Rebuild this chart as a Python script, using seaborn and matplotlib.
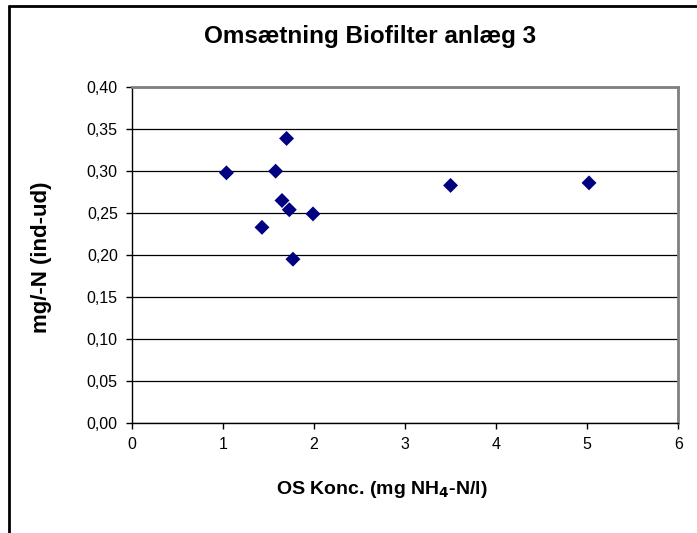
import numpy as np
import pandas as pd
import matplotlib
matplotlib.use("Agg")
import matplotlib.pyplot as plt
from matplotlib.lines import Line2D
from matplotlib.ticker import FuncFormatter, MultipleLocator
import seaborn as sns

# ── Data ─────────────────────────────────────────────────────────────────────
os_konc = [1.04, 1.58, 1.70, 1.65, 1.73, 1.99, 1.43, 1.77, 3.50, 5.02]
omsaetning = [0.298, 0.300, 0.339, 0.265, 0.254, 0.249, 0.233, 0.195, 0.283, 0.286]

df = pd.DataFrame({"konc": os_konc, "oms": omsaetning})

sns.set_style("white")
plt.rcParams["font.family"] = ["Liberation Sans", "DejaVu Sans"]
plt.rcParams["text.color"] = "black"
plt.rcParams["xtick.color"] = "black"
plt.rcParams["ytick.color"] = "black"

W, H = 697, 533
fig = plt.figure(figsize=(W / 100, H / 100), dpi=100)
ax = fig.add_axes([131.7 / W, 1 - 422.7 / H, (678.3 - 131.7) / W, (422.7 - 87.3) / H])

sns.scatterplot(data=df, x="konc", y="oms", ax=ax, marker="D", s=58,
                color="#000080", edgecolor="none", zorder=3)

ax.set_xlim(0, 6)
ax.set_ylim(0, 0.40)
ax.xaxis.set_major_locator(MultipleLocator(1))
ax.yaxis.set_major_locator(MultipleLocator(0.05))
ax.yaxis.set_major_formatter(FuncFormatter(lambda v, _: f"{v:.2f}".replace(".", ",")))
ax.grid(axis="y", color="black", lw=0.9)
ax.grid(axis="x", visible=False)

for side in ["left", "bottom"]:
    ax.spines[side].set_color("black")
    ax.spines[side].set_linewidth(1.0)
for side in ["top", "right"]:
    ax.spines[side].set_color("#808080")
    ax.spines[side].set_linewidth(2.0)

ax.tick_params(axis="both", direction="out", length=4, width=1, color="black",
               labelsize=11.5, pad=6, bottom=True, left=True)
ax.set_xlabel("")
ax.set_ylabel("")

# titles placed where they sit in the reference
fig.text(370 / W, 1 - 36 / H, "Omsætning Biofilter anlæg 3", fontsize=17.5,
         fontweight="bold", ha="center", va="center")
fig.text(382 / W, 1 - 490 / H, "OS Konc. (mg NH$_\\mathbf{4}$-N/l)", fontsize=14,
         fontweight="bold", ha="center", va="center")
fig.text(42 / W, 1 - 257 / H, "mg/-N (ind-ud)", fontsize=16, fontweight="bold",
         rotation=90, ha="center", va="center")

# chart-area frame (only top and left edges visible in the reference)
fig.add_artist(Line2D([8.5 / W, 1], [1 - 6 / H, 1 - 6 / H],
                      transform=fig.transFigure, color="black", lw=2))
fig.add_artist(Line2D([8.5 / W, 8.5 / W], [0, 1 - 6 / H],
                      transform=fig.transFigure, color="black", lw=2))

fig.savefig("out.png", dpi=100)
